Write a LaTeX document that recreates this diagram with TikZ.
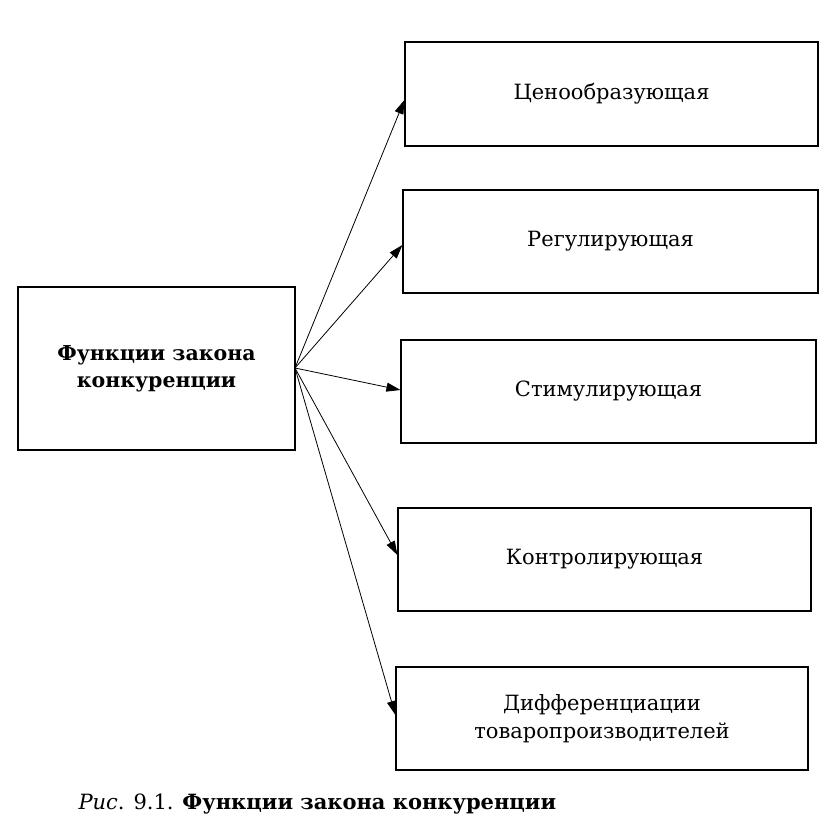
\documentclass[tikz,border=0pt]{standalone}
\usepackage{fontspec}
\setmainfont{DejaVu Serif}
\usetikzlibrary{arrows.meta}
\begin{document}
\begin{tikzpicture}[x=1pt,y=-1pt,
  box/.style={draw,line width=1.2pt,inner sep=0pt,align=center,font=\fontsize{21}{28}\selectfont},
  conn/.style={line width=0.8pt,-{Triangle[length=14pt,width=9pt]}}]
\fill[white] (0,0) rectangle (826,826);
\node[box,minimum width=277pt,minimum height=163pt,font=\bfseries\fontsize{20.5}{27}\selectfont] (L) at (156.5,368.5) {Функции закона\\конкуренции};
\node[box,minimum width=413pt,minimum height=104pt] (b1) at (611.5,94) {Ценообразующая};
\node[box,minimum width=415pt,minimum height=103pt] (b2) at (610.5,241.5) {Регулирующая};
\node[box,minimum width=415pt,minimum height=103pt] (b3) at (608.5,391.5) {Стимулирующая};
\node[box,minimum width=413pt,minimum height=103pt] (b4) at (604.5,559.5) {Контролирующая};
\node[box,minimum width=412pt,minimum height=103pt] (b5) at (602,718.5) {Дифференциации\\товаропроизводителей};
\coordinate (s) at (295,368);
\draw[conn] (s) -- (b1.west|-0,100);
\draw[conn] (s) -- (b2.west|-0,245);
\draw[conn] (s) -- (b3.west|-0,390);
\draw[conn] (s) -- (b4.west|-0,555);
\draw[conn] (s) -- (b5.west|-0,715);
\node[anchor=west,font=\fontsize{21}{28}\selectfont] (cap) at (75,804) {\textit{Рис}. 9.1. \textbf{Функции закона конкуренции}};
\end{tikzpicture}
\end{document}
